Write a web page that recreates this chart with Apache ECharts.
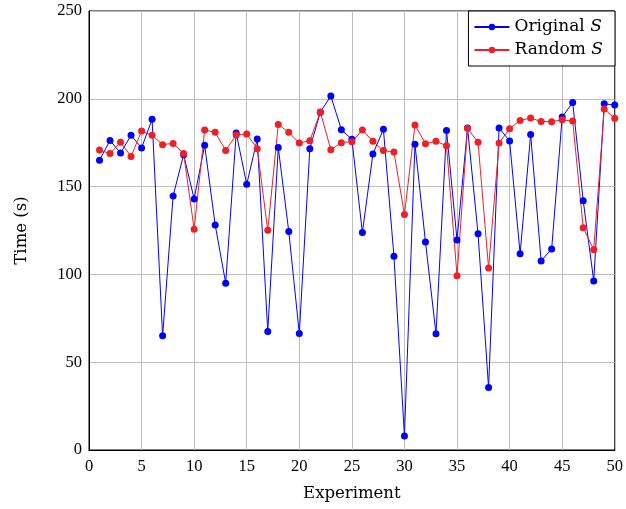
<!DOCTYPE html>
<html><head><meta charset="utf-8">
<script src="https://cdn.jsdelivr.net/npm/echarts@6/dist/echarts.min.js"></script>
<style>html,body{margin:0;padding:0;background:#fff}#c{width:626px;height:509px}</style>
</head><body><div id="c"></div>
<script>
const experiments = Array.from({length: 50}, (_, i) => i + 1);
const originalS = [165.0,176.3,169.1,179.2,172.0,188.3,65.0,144.7,168.2,143.0,
  173.5,128.2,95.0,180.5,151.3,177.1,67.5,172.2,124.4,66.4,
  171.6,192.4,201.6,182.4,176.9,123.8,168.6,182.6,110.4,8.0,
  174.1,118.5,66.2,182.0,119.6,183.4,123.1,35.6,183.4,176.0,
  111.8,179.6,107.7,114.5,189.6,197.9,142.0,96.3,197.2,196.4];
const randomS = [170.8,168.8,175.2,167.2,181.6,179.2,173.9,174.6,168.9,125.7,
  182.2,180.9,170.6,179.4,179.9,171.6,125.1,185.4,180.9,174.8,
  176.1,192.5,171.0,175.0,175.6,182.2,175.8,170.5,169.7,134.1,
  185.1,174.4,175.8,173.3,99.3,183.2,175.2,103.7,174.8,183.0,
  187.7,189.0,187.1,187.0,188.0,187.3,126.6,114.1,194.2,188.9];
const seriesNames = ['Original', 'Random'];

const numFont = 'Liberation Serif';
const textFont = 'DejaVu Serif';
const chart = echarts.init(document.getElementById('c'));
const pairs = a => a.map((v, i) => [experiments[i], v]);
const axisCommon = {
  axisLine: {show: true, lineStyle: {color: '#000', width: 1}},
  axisTick: {show: false},
};
chart.setOption({
  animation: false,
  grid: {left: 89, right: 11, top: 11, bottom: 59, show: true, borderColor: '#000', borderWidth: 1},
  legend: {
    right: 11, top: 11, orient: 'vertical',
    backgroundColor: '#fff', borderColor: '#000', borderWidth: 1, borderRadius: 0,
    padding: [6, 12, 6, 5], itemGap: 3, itemWidth: 35, itemHeight: 8,
    textStyle: {fontFamily: textFont, fontSize: 17, color: '#000', lineHeight: 20,
      rich: {i: {fontFamily: textFont, fontStyle: 'italic', fontSize: 17, color: '#000', lineHeight: 20}}},
    formatter: n => n + ' {i|S}',
    data: seriesNames
  },
  xAxis: [{
    type: 'value', min: 0, max: 50, interval: 5,
    name: 'Experiment', nameLocation: 'middle', nameGap: 35,
    nameTextStyle: {fontFamily: textFont, fontSize: 16.5, color: '#000'},
    axisLabel: {fontFamily: numFont, fontSize: 16.5, color: '#000', margin: 8},
    splitLine: {show: true, lineStyle: {color: '#bdbdbd', width: 1}},
    ...axisCommon
  }, {
    type: 'value', min: 0, max: 50, interval: 5, position: 'top',
    axisLabel: {show: false}, splitLine: {show: false}, ...axisCommon
  }],
  yAxis: [{
    type: 'value', min: 0, max: 250, interval: 50,
    name: 'Time (s)', nameLocation: 'middle', nameGap: 59, nameRotate: 90,
    nameTextStyle: {fontFamily: textFont, fontSize: 16.5, color: '#000'},
    axisLabel: {fontFamily: numFont, fontSize: 16.5, color: '#000', margin: 7},
    splitLine: {show: true, lineStyle: {color: '#bdbdbd', width: 1}},
    ...axisCommon
  }, {
    type: 'value', min: 0, max: 250, interval: 50, position: 'right',
    axisLabel: {show: false}, splitLine: {show: false}, ...axisCommon
  }],
  series: [
    {name: seriesNames[0], type: 'line', data: pairs(originalS), symbol: 'circle', symbolSize: 7,
     itemStyle: {color: '#0000ff'}, lineStyle: {color: '#0000ff', width: 1}},
    {name: seriesNames[1], type: 'line', data: pairs(randomS), symbol: 'circle', symbolSize: 7,
     itemStyle: {color: '#ee1f26'}, lineStyle: {color: '#ee1f26', width: 1}}
  ]
});
</script></body></html>
